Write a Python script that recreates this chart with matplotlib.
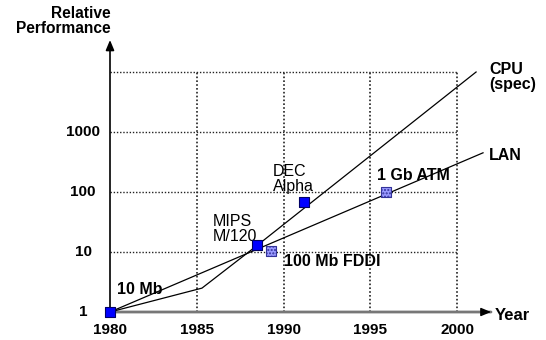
import matplotlib
matplotlib.use("Agg")
import matplotlib.pyplot as plt
import numpy as np
from matplotlib.transforms import blended_transform_factory

plt.rcParams['font.family'] = ['Liberation Sans', 'DejaVu Sans']

# ---- data ----
x_ticks = [1980, 1985, 1990, 1995, 2000]
x_tick_labels = ["1980", "1985", "1990", "1995", "2000"]
y_ticks = [1, 10, 100, 1000]
y_tick_labels = ["1", "10", "100", "1000"]
grid_y = [10, 100, 1000, 10000]

cpu_years = [1980, 1985.3, 1988.5, 2001.1]
cpu_values = [1, 2.5, 13, 10000]
lan_years = [1980, 2001.5]
lan_values = [1, 450]

cpu_mark_years = [1980, 1988.5, 1991.2]
cpu_mark_values = [1, 13, 68]
lan_mark_years = [1989.3, 1995.9]
lan_mark_values = [10.4, 100]

# ---- layout (pixel calibration) ----
W, H = 546, 340
px_x0, px_per_year = 110, 17.35
px_y0, px_per_dec = 312, 60.0

def yr(px):
    return 1980 + (px - px_x0) / px_per_year

def val(py):
    return 10 ** ((px_y0 - py) / px_per_dec)

fig = plt.figure(figsize=(W / 100, H / 100), dpi=100)
ax = fig.add_axes([0, 0, 1, 1])
ax.set_yscale('log')
ax.set_xlim(yr(0), yr(W))
ax.set_ylim(val(H), val(0))
ax.axis('off')

# grid
gcol = '#222222'
gls = (0, (1, 1.3))
for g in grid_y:
    ax.plot([1980, 2000], [g, g], color=gcol, lw=1.0, ls=gls, zorder=1)
for xv in x_ticks[1:]:
    ax.plot([xv, xv], [1, grid_y[-1]], color=gcol, lw=1.2, ls=gls, zorder=1)

# axes arrows
ax.annotate('', xy=(1980, val(40)), xytext=(1980, 1),
            arrowprops=dict(arrowstyle='-|>,head_length=0.6,head_width=0.25', color='black', lw=1.2,
                            shrinkA=0, shrinkB=0))
ax.annotate('', xy=(yr(491), 1), xytext=(1980, 1),
            arrowprops=dict(arrowstyle='-', color='#777777', lw=2.0, shrinkA=0, shrinkB=0),
            zorder=2)
ax.annotate('', xy=(yr(491), 1), xytext=(yr(482), 1),
            arrowprops=dict(arrowstyle='-|>,head_length=0.6,head_width=0.25', color='black', lw=1.0,
                            shrinkA=0, shrinkB=0),
            zorder=3)

# lines
ax.plot(cpu_years, cpu_values, color='black', lw=0.9, zorder=4)
ax.plot(lan_years, lan_values, color='black', lw=0.9, zorder=4)

# markers
ax.scatter(cpu_mark_years, cpu_mark_values, marker='s', s=58, facecolor='#0000ff',
           edgecolor='#000066', linewidth=0.8, zorder=5)
ax.scatter(lan_mark_years, lan_mark_values, marker='s', s=52, facecolor='#9999ff',
           edgecolor='#333399', linewidth=0.8, zorder=5, hatch='.....')

# tick labels
fs = 11
for xv, lab in zip(x_ticks, x_tick_labels):
    ax.text(xv, val(330), lab, ha='center', va='center', fontsize=fs, fontweight='bold')
trans = blended_transform_factory(fig.transFigure, ax.transData)
for yv, lab in zip(y_ticks, y_tick_labels):
    ax.text(83 / W, yv, lab, ha='center', va='center', fontsize=fs, fontweight='bold', transform=trans)

# annotations
fa = 11.5
ax.text(yr(111), val(21), 'Relative\nPerformance', ha='right', va='center', multialignment='right',
        fontsize=fa - 0.3, fontweight='bold', linespacing=1.0)
ax.text(yr(495), val(316), 'Year', ha='left', va='center', fontsize=fa + 0.5, fontweight='bold')
ax.text(yr(489), val(77), 'CPU\n(spec)', ha='left', va='center', fontsize=fa, fontweight='bold', linespacing=1.0)
ax.text(yr(489), val(155), 'LAN', ha='left', va='center', fontsize=fa, fontweight='bold')
ax.text(yr(377), val(175), '1 Gb ATM', ha='left', va='center', fontsize=fa, fontweight='bold')
ax.text(yr(284), val(261), '100 Mb FDDI', ha='left', va='center', fontsize=fa, fontweight='bold')
ax.text(yr(117), val(290), '10 Mb', ha='left', va='center', fontsize=fa, fontweight='bold')
ax.text(yr(213), val(229), 'MIPS\nM/120', ha='left', va='center', fontsize=11.5, linespacing=1.0)
ax.text(yr(273), val(179), 'DEC\nAlpha', ha='left', va='center', fontsize=11.5, linespacing=1.0)

fig.savefig('out.png', dpi=100)
